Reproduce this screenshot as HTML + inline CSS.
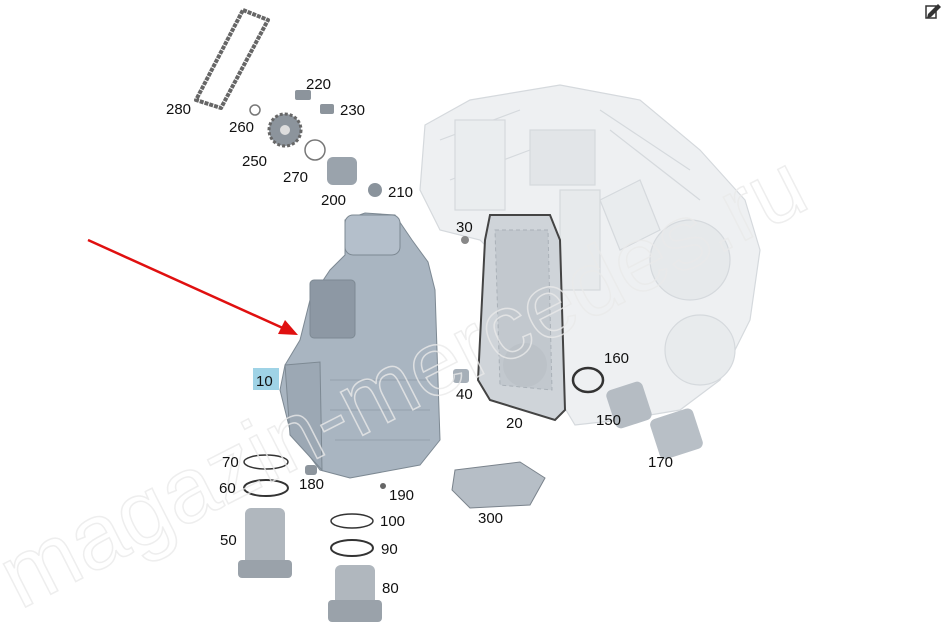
<!DOCTYPE html>
<html><head><meta charset="utf-8"><style>
html,body{margin:0;padding:0;background:#fff;width:945px;height:632px;overflow:hidden}
svg{display:block}
text{font-family:"Liberation Sans",sans-serif;font-size:15px;fill:#111}
</style></head><body>
<svg width="945" height="632" viewBox="0 0 945 632">
<!-- transmission housing (faint) -->
<g fill="#eef0f2" stroke="#d5d9dd" stroke-width="1.2">
<path d="M425 125 L470 100 L560 85 L640 100 L700 150 L745 200 L760 250 L750 320 L720 380 L680 410 L620 420 L575 425 L560 400 L540 300 L480 240 L440 230 L420 190 Z"/>
<rect x="530" y="130" width="65" height="55" fill="#e2e5e8"/>
<circle cx="690" cy="260" r="40" fill="#e6e9eb"/>
<circle cx="700" cy="350" r="35" fill="#e8ebed"/>
<path d="M600 200 L640 180 L660 230 L620 250Z" fill="#e9ecee"/>
<path d="M440 140 L520 110 M450 180 L530 150 M600 110 L690 170 M610 130 L700 200" fill="none"/>
<rect x="455" y="120" width="50" height="90" fill="#eaedef"/>
<rect x="560" y="190" width="40" height="100" fill="#e7eaec"/>
</g>
<!-- valve body + gasket -->
<path d="M490 215 L550 215 L560 240 L565 410 L555 420 L490 400 L478 380 L485 240 Z" fill="#cfd4d9" stroke="#444" stroke-width="2"/>
<path d="M495 230 L548 230 L552 390 L500 385 Z" fill="#c2c8ce" stroke="#aab1b8" stroke-dasharray="4 3"/>
<circle cx="525" cy="365" r="22" fill="#bcc2c8"/>
<ellipse cx="588" cy="380" rx="15" ry="12" fill="none" stroke="#333" stroke-width="2.5"/>
<!-- filters 150 170 -->
<rect x="610" y="385" width="38" height="40" rx="6" fill="#b5bcc3" transform="rotate(-18 629 405)"/>
<rect x="654" y="413" width="45" height="42" rx="6" fill="#b8bfc6" transform="rotate(-18 676 434)"/>
<rect x="453" y="369" width="16" height="14" rx="3" fill="#a6afb8"/>
<circle cx="465" cy="240" r="4" fill="#888"/>

<!-- chain 280 -->
<path d="M243 10 L268 20 L221 108 L196 100 Z" fill="none" stroke="#666" stroke-width="4" stroke-linejoin="round" stroke-dasharray="4 1"/>
<circle cx="285" cy="130" r="16" fill="#8c949c" stroke="#666" stroke-dasharray="3 2" stroke-width="3"/>
<circle cx="285" cy="130" r="5" fill="#ddd"/>
<circle cx="255" cy="110" r="5" fill="none" stroke="#777" stroke-width="1.5"/>
<circle cx="315" cy="150" r="10" fill="none" stroke="#777" stroke-width="1.5"/>
<rect x="295" y="90" width="16" height="10" rx="2" fill="#8c949c"/>
<rect x="320" y="104" width="14" height="10" rx="2" fill="#8c949c"/>
<rect x="327" y="157" width="30" height="28" rx="6" fill="#9aa3ac"/>
<circle cx="375" cy="190" r="7" fill="#8a939c"/>

<!-- oil pan 10 -->
<g fill="#a9b5c1" stroke="#7d8993" stroke-width="1">
<path d="M300 340 L310 300 L330 270 L345 255 L345 220 L365 213 L395 215 L412 240 L428 262 L435 290 L440 440 L420 465 L350 478 L320 470 L290 430 L280 390 L285 365 Z"/>
<rect x="345" y="215" width="55" height="40" rx="8" fill="#b4bfcb"/>
<rect x="310" y="280" width="45" height="58" rx="4" fill="#8d98a4"/>
<path d="M285 365 L320 362 L322 470 L290 435 Z" fill="#9ca8b4"/>
<path d="M330 380 L430 380 M330 410 L430 410 M335 440 L430 440" fill="none" stroke="#95a1ad"/>
</g>

<path d="M455 470 L520 462 L545 478 L530 505 L470 508 L452 490Z" fill="#b6bec6" stroke="#7a838c"/>
<circle cx="383" cy="486" r="3" fill="#666"/>
<rect x="305" y="465" width="12" height="10" rx="3" fill="#8d959d"/>
<ellipse cx="266" cy="462" rx="22" ry="7" fill="none" stroke="#333" stroke-width="1.5"/>
<ellipse cx="266" cy="488" rx="22" ry="8" fill="none" stroke="#333" stroke-width="2"/>
<ellipse cx="352" cy="521" rx="21" ry="7" fill="none" stroke="#333" stroke-width="1.5"/>
<ellipse cx="352" cy="548" rx="21" ry="8" fill="none" stroke="#333" stroke-width="2"/>
<rect x="245" y="508" width="40" height="58" rx="6" fill="#b0b7be"/>
<rect x="238" y="560" width="54" height="18" rx="4" fill="#9aa2aa"/>
<rect x="335" y="565" width="40" height="45" rx="6" fill="#b0b7be"/>
<rect x="328" y="600" width="54" height="22" rx="4" fill="#9aa2aa"/>

<!-- watermark -->
<text x="0" y="0" transform="translate(20,610) rotate(-27)" style="font-size:92px;fill:none;stroke:#eaeaea;stroke-width:1.5;opacity:0.8">magazin-mercedes.ru</text>

<line x1="88" y1="240" x2="285" y2="329" stroke="#e01010" stroke-width="2.5"/>
<polygon points="298,335 278,334 285,320" fill="#e01010"/>

<rect x="253" y="368" width="26" height="22" fill="#9fd3e6"/>
<text x="256" y="386">10</text>

<text x="166" y="114">280</text>
<text x="306" y="89">220</text>
<text x="340" y="115">230</text>
<text x="229" y="132">260</text>
<text x="242" y="166">250</text>
<text x="283" y="182">270</text>
<text x="321" y="205">200</text>
<text x="388" y="197">210</text>
<text x="456" y="232">30</text>
<text x="456" y="399">40</text>
<text x="506" y="428">20</text>
<text x="604" y="363">160</text>
<text x="596" y="425">150</text>
<text x="648" y="467">170</text>
<text x="222" y="467">70</text>
<text x="219" y="493">60</text>
<text x="299" y="489">180</text>
<text x="389" y="500">190</text>
<text x="478" y="523">300</text>
<text x="380" y="526">100</text>
<text x="381" y="554">90</text>
<text x="220" y="545">50</text>
<text x="382" y="593">80</text>

<path d="M928 14 L938 4 L941 7 L931 17 L927 18 Z" fill="#333"/>
<rect x="926" y="6" width="10" height="12" fill="none" stroke="#333" stroke-width="1.5"/>
</svg>
</body></html>
